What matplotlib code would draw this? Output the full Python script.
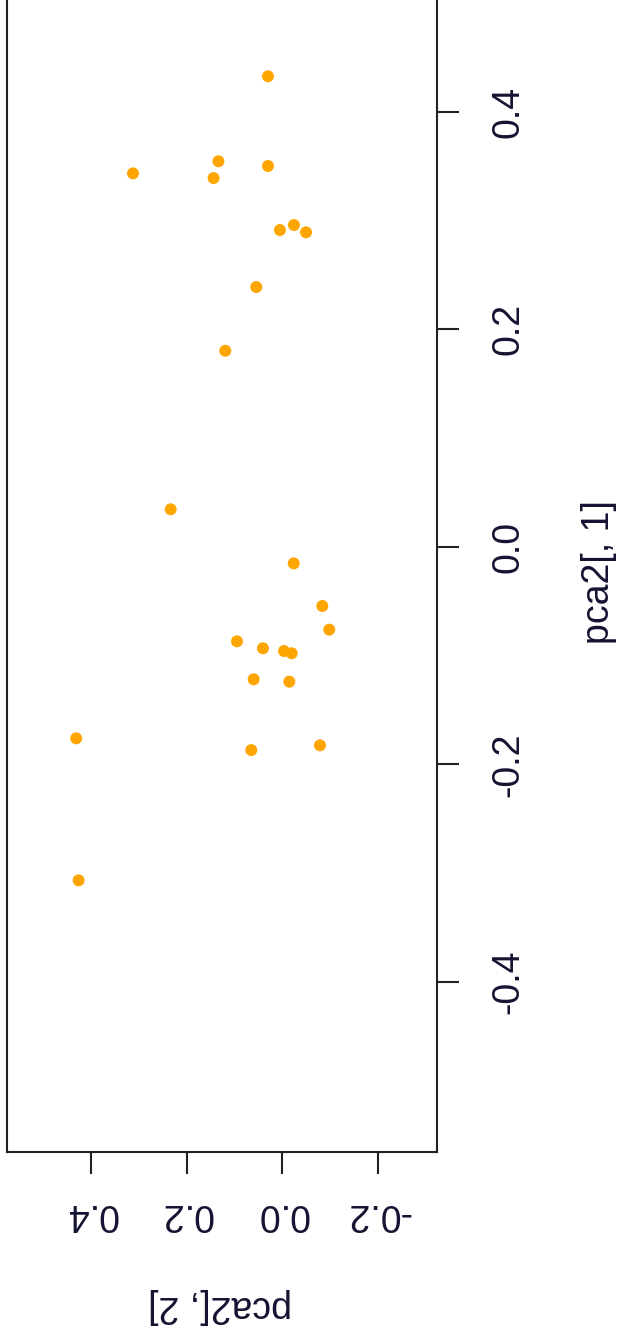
import matplotlib
matplotlib.use("Agg")
import matplotlib.pyplot as plt

# Data: pca2[, 1] (first component) and pca2[, 2] (second component)
pc1 = [0.4327, 0.3434, 0.3545, 0.3391, 0.3502, 0.2913, 0.2959, 0.2892,
       0.2389, 0.1803, 0.0345, -0.0152, -0.0544, -0.0762, -0.0869, -0.0933,
       -0.0958, -0.0979, -0.1218, -0.1240, -0.1761, -0.1869, -0.1825, -0.3067]
pc2 = [0.030, 0.313, 0.134, 0.144, 0.030, 0.005, -0.0245, -0.0497,
       0.0545, 0.1195, 0.234, -0.0239, -0.0839, -0.0985, 0.095, 0.0405,
       -0.0036, -0.0197, 0.060, -0.0147, 0.432, 0.065, -0.079, 0.427]

pc1_ticks = [-0.4, -0.2, 0.0, 0.2, 0.4]
pc2_ticks = [0.4, 0.2, 0.0, -0.2]
pc1_label = "pca2[, 1]"
pc2_label = "pca2[, 2]"

W, H = 621, 1341
fig = plt.figure(figsize=(W / 100, H / 100), dpi=100)
fig.patch.set_facecolor("white")

left_px, right_px, bottom_px, top_px = 7.3, 436.5, 1152, -8
ax = fig.add_axes([left_px / W, (H - bottom_px) / H,
                   (right_px - left_px) / W, (bottom_px - top_px) / H])

txt_color = "#141432"
line_color = "#222222"
font = ["Liberation Sans", "DejaVu Sans"]
fs = 27

ax.scatter(pc2, pc1, s=74, color="#FFA500", edgecolors="none", zorder=3)

ax.set_xlim(0.5765, -0.3233)
ax.set_ylim(-0.5565, 0.5102)

for side in ["left", "right", "bottom", "top"]:
    ax.spines[side].set_linewidth(1.5)
    ax.spines[side].set_color(line_color)

ax.set_xticks(pc2_ticks)
ax.set_xticklabels([f"{v:.1f}" for v in pc2_ticks], rotation=180,
                   fontsize=fs, color=txt_color, family=font)
ax.tick_params(axis="x", direction="out", length=16, width=1.5,
               color=line_color, pad=16)

ax.yaxis.tick_right()
ax.set_yticks(pc1_ticks)
ax.set_yticklabels([f"{v:.1f}" for v in pc1_ticks], rotation=90,
                   fontsize=fs, color=txt_color, family=font, va="center")
ax.tick_params(axis="y", direction="out", length=16, width=1.5,
               color=line_color, pad=23)

fig.text(220 / W, 1 - 1305.5 / H, pc2_label, rotation=180, ha="center",
         va="center", fontsize=fs, color=txt_color, family=font)
fig.text(599 / W, 1 - 572 / H, pc1_label, rotation=90, ha="center",
         va="center", fontsize=fs, color=txt_color, family=font)

fig.savefig("out.png", dpi=100, facecolor="white")
